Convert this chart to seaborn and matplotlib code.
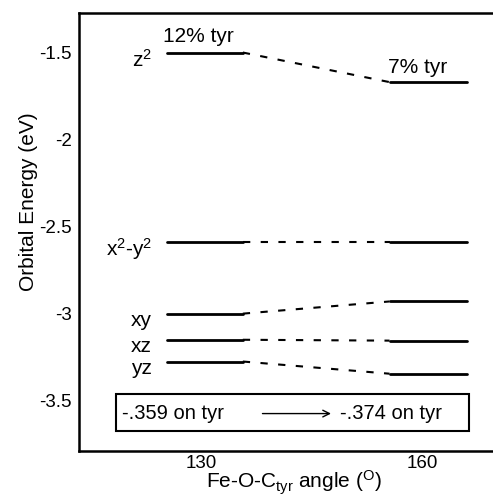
import matplotlib
matplotlib.use("Agg")
import matplotlib.pyplot as plt
import seaborn as sns
import pandas as pd
from matplotlib.patches import Rectangle

# ---- data ----
orbitals = ["z$^{2}$", "x$^{2}$-y$^{2}$", "xy", "xz", "yz"]
energy_130 = [-1.50, -2.59, -3.00, -3.15, -3.275]
energy_160 = [-1.67, -2.59, -2.93, -3.155, -3.345]
angle_ticks = [130, 160]
energy_ticks = [-1.5, -2.0, -2.5, -3.0, -3.5]
energy_tick_labels = ["-1.5", "-2", "-2.5", "-3", "-3.5"]
tyr_130 = "12% tyr"
tyr_160 = "7% tyr"
charge_130 = "-.359 on tyr"
charge_160 = "-.374 on tyr"

# ---- style / layout ----
sns.set_theme(style="white")
plt.rcParams["font.family"] = ["Liberation Sans", "DejaVu Sans"]
plt.rcParams["mathtext.fontset"] = "custom"
plt.rcParams["mathtext.rm"] = "Liberation Sans"
plt.rcParams["mathtext.it"] = "Liberation Sans"
plt.rcParams["mathtext.default"] = "regular"
plt.rcParams["text.color"] = "black"
plt.rcParams["axes.labelcolor"] = "black"
plt.rcParams["xtick.color"] = "black"
plt.rcParams["ytick.color"] = "black"

left_span = (125.3, 135.6)
right_span = (155.6, 166.2)

fig = plt.figure(figsize=(4.93, 5.00), dpi=100)
ax = fig.add_axes([0.1602, 0.098, 0.8398, 0.876])

for name, e1, e2 in zip(orbitals, energy_130, energy_160):
    seg_l = pd.DataFrame({"angle": list(left_span), "energy": [e1, e1]})
    seg_r = pd.DataFrame({"angle": list(right_span), "energy": [e2, e2]})
    seg_c = pd.DataFrame({"angle": [left_span[1], right_span[0]], "energy": [e1, e2]})
    sns.lineplot(data=seg_l, x="angle", y="energy", ax=ax, color="black", lw=2.0, estimator=None)
    sns.lineplot(data=seg_r, x="angle", y="energy", ax=ax, color="black", lw=2.0, estimator=None)
    sns.lineplot(data=seg_c, x="angle", y="energy", ax=ax, color="black", lw=1.5,
                 estimator=None, linestyle=(0, (3.5, 5)))
    ax.text(123.2, e1 - 0.04, name, ha="right", va="center", fontsize=15)

ax.text(129.6, -1.41, tyr_130, ha="center", va="center", fontsize=15)
ax.text(159.4, -1.588, tyr_160, ha="center", va="center", fontsize=15)

# charge box
ax.add_patch(Rectangle((118.3, -3.673), 166.45 - 118.3, -3.462 + 3.673,
                       fill=False, edgecolor="black", lw=1.5, zorder=3))
ax.text(119.1, -3.574, charge_130, ha="left", va="center", fontsize=14.5)
ax.text(162.8, -3.574, charge_160, ha="right", va="center", fontsize=14.5)
ax.annotate("", xy=(148.0, -3.574), xytext=(137.9, -3.574),
            arrowprops=dict(arrowstyle="->", color="black", lw=1.0))

ax.set_xlim(113.27, 169.7)
ax.set_ylim(-3.789, -1.273)
ax.set_xticks(angle_ticks)
ax.set_xticklabels([str(t) for t in angle_ticks], fontsize=13.5)
ax.set_yticks(energy_ticks)
ax.set_yticklabels(energy_tick_labels, fontsize=13.5)
ax.tick_params(axis="both", direction="in", length=8, width=1.5, color="black")
ax.tick_params(axis="x", pad=3)
ax.tick_params(axis="y", pad=5)
ax.yaxis.get_major_ticks()[-1].tick1line.set_visible(False)

for side in ["left", "top", "bottom"]:
    ax.spines[side].set_visible(True)
    ax.spines[side].set_color("black")
    ax.spines[side].set_linewidth(1.8)
ax.spines["right"].set_visible(False)

ax.set_xlabel("Fe-O-C$_{tyr}$ angle ($^{O}$)", fontsize=15, labelpad=-1)
ax.set_ylabel("Orbital Energy (eV)", fontsize=15)
ax.yaxis.set_label_coords(-0.100, 0.57)
ax.xaxis.set_label_coords(0.52, -0.041)
ax.xaxis.label.set_va("top")

fig.savefig("out.png", dpi=100, facecolor="white")
